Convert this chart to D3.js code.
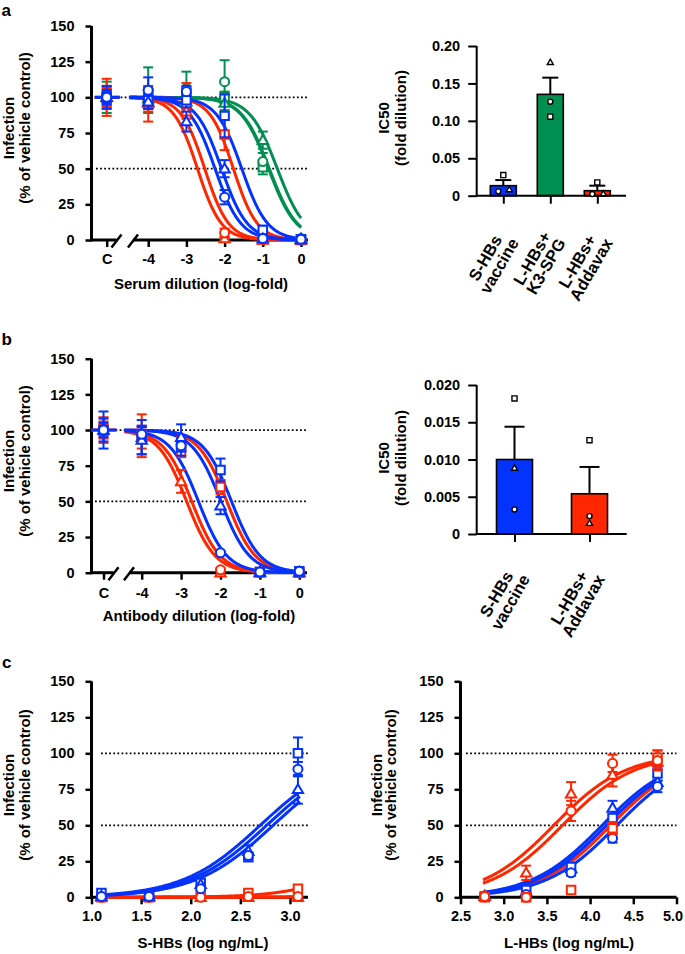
<!DOCTYPE html>
<html><head><meta charset="utf-8">
<script src="https://cdn.jsdelivr.net/npm/d3@7/dist/d3.min.js"></script>
<style>
html,body{margin:0;padding:0;background:#fff;}
svg{display:block;}
text{font-family:"Liberation Sans",Arial,Helvetica,sans-serif;font-weight:bold;fill:#000;}
</style></head><body>
<script>
// ================= DATA =================
const yTicks=[0,25,50,75,100,125,150];
const refLines=[100,50];
const doseX=["C",-4,-3,-2,-1,0];
const doseTickValues=[-5,-4,-3,-2,-1,0];
const doseTickLabels=["C","-4","-3","-2","-1","0"];

// Panel a – serum dilution (first value = vehicle control "C")
const aRedCircle=[100,98,100,5,0.5,0],       aRedCircleSD=[13,5,10,3,0,0];
const aRedSquare=[100,95,95,74,0.5,0],       aRedSquareSD=[8,12,5,11,0,0];
const aRedTriangle=[100,96,90,1,0,0],        aRedTriangleSD=[6,6,5,1,0,0];
const aGreenCircle=[100,105,106,111,55,1],   aGreenCircleSD=[11,16,12,15,6,0];
const aGreenSquare=[100,100,100,100,51,0.5], aGreenSquareSD=[7,8,6,4,5,0];
const aGreenTriangle=[100,99,97,96,70,1],    aGreenTriangleSD=[5,6,5,5,6,0];
const aBlueCircle=[100,105,104,30,1,0.5],    aBlueCircleSD=[8,9,4,5,0,0];
const aBlueSquare=[100,98,98,87,7,0.5],      aBlueSquareSD=[5,6,5,15,3,0];
const aBlueTriangle=[100,97,83,50,1,0.5],    aBlueTriangleSD=[4,5,7,6,0,0];
const aRedIC50=[-2.71,-2.52,-1.77], aBlueIC50=[-2.25,-2.08,-1.55], aGreenIC50=[-0.85,-0.83,-0.62];
const aRedHill=1.4, aBlueHill=1.3, aGreenHill=1.2;

// Panel b – antibody dilution
const bRedCircle=[100,97,90,2,0,0],          bRedCircleSD=[9,5,5,1,0,0];
const bRedSquare=[100,96,85,60,0.5,0],       bRedSquareSD=[6,15,4,5,0,0];
const bRedTriangle=[100,95,64,0,0,0],        bRedTriangleSD=[4,8,8,0,0,0];
const bBlueCircle=[100,97,89,14,0.5,1],      bBlueCircleSD=[13,5,4,1,0,0];
const bBlueSquare=[100,95,88,72,0.5,1],      bBlueSquareSD=[8,12,6,8,0,0];
const bBlueTriangle=[100,93,95,47,0.5,0.5],  bBlueTriangleSD=[5,10,9,6,0,0];
const bRedIC50=[-2.86,-2.73,-1.84], bBlueIC50=[-2.56,-1.99,-1.72];
const bHill=1.2;

// Panel c left – S-HBs
const cLeftX=[1.1,1.58,2.1,2.58,3.08];
const cLeftTicks=[1.0,1.5,2.0,2.5,3.0];
const cLBlueSquare=[3,1,10,28,100],    cLBlueSquareSD=[0,0,2,3,11];
const cLBlueCircle=[0.5,0.5,6,29,89],  cLBlueCircleSD=[0,0,1,2,5];
const cLBlueTriangle=[1,1,9,32,75],    cLBlueTriangleSD=[0,0,2,4,10];
const cLRedSquare=[0,0,0.5,3,6],       cLRedSquareSD=[0,0,0,0,0];
const cLRedCircle=[0,0,0,0.5,0.5],     cLRedCircleSD=[0,0,0,0,0];
const cLRedTriangle=[0,0,0,0,0],       cLRedTriangleSD=[0,0,0,0,0];
const cLBlueEC50=[2.70,2.765,2.83], cLBlueHill=1.1;
const cLRedEC50=[4.04,5.0,5.3], cLRedHill=1.25;

// Panel c right – L-HBs
const cRightX=[2.78,3.26,3.78,4.26,4.78];
const cRightTicks=[2.5,3.0,3.5,4.0,4.5,5.0];
const cRRedTriangle=[1,17,72,85,94],   cRRedTriangleSD=[0,5,8,8,4];
const cRRedCircle=[0.5,0,60,93,95],    cRRedCircleSD=[0,0,7,6,7];
const cRRedSquare=[0,0,5,48,97],       cRRedSquareSD=[0,0,0,4,5];
const cRBlueSquare=[0.5,5,21,55,86],   cRBlueSquareSD=[0,2,3,5,5];
const cRBlueCircle=[0.3,2,17,41,77],   cRBlueCircleSD=[0,1,2,3,4];
const cRBlueTriangle=[1,4,20,62,80],   cRBlueTriangleSD=[0,1,3,5,4];
const cRRedEC50=[3.58,3.68,4.24], cRBlueEC50=[4.14,4.19,4.31];
const cRHill=1.05;

// IC50 bar charts
const barACats=[["S-HBs","vaccine"],["L-HBs+","K3-SPG"],["L-HBs+","Addavax"]];
const barAMean=[0.0134,0.1354,0.0067];
const barASEM=[0.0075,0.0223,0.0067];
const barASquare=[0.0276,0.1056,0.0178];
const barACircle=[0.0058,0.1256,0.0022];
const barATriangle=[0.0076,0.1777,0.0022];
const barATicks=[0,0.05,0.10,0.15,0.20];
const barATickLabels=["0","0.05","0.10","0.15","0.20"];

const barBCats=[["S-HBs","vaccine"],["L-HBs+","Addavax"]];
const barBMean=[0.0100,0.0054];
const barBSEM=[0.0044,0.0036];
const barBSquare=[0.0182,0.0126];
const barBCircle=[0.0033,0.0024];
const barBTriangle=[0.0088,0.0014];
const barBTicks=[0,0.005,0.010,0.015,0.020];
const barBTickLabels=["0","0.005","0.010","0.015","0.020"];

// ================= STYLE =================
const RED="#FF2600", BLUE="#0433FF", GREEN="#008F51";
const FS_TICK=14.5, FS_TITLE=15, FS_CAT=16.5, FS_LETTER=17;

const svg=d3.select("body").append("svg").attr("width",685).attr("height",954);

function ln(g,x1,y1,x2,y2,w,c){
  return g.append("line").attr("x1",x1).attr("y1",y1).attr("x2",x2).attr("y2",y2)
    .attr("stroke",c||"#000").attr("stroke-width",w);
}
function styleAxis(ax,tw){
  ax.attr("font-family",null).attr("font-size",FS_TICK);
  ax.select(".domain").remove();
  ax.selectAll(".tick line").attr("stroke","#000").attr("stroke-width",tw);
  ax.selectAll(".tick text").attr("fill","#000");
}
function symPath(shape,size){
  const t=shape==="circle"?d3.symbolCircle:shape==="square"?d3.symbolSquare:d3.symbolTriangle;
  return d3.symbol().type(t).size(size)();
}
function yTitle(x1,x2,cy,l1,l2){
  svg.append("text").attr("transform",`translate(${x1},${cy}) rotate(-90)`).attr("text-anchor","middle").attr("font-size",FS_TITLE).text(l1);
  svg.append("text").attr("transform",`translate(${x2},${cy}) rotate(-90)`).attr("text-anchor","middle").attr("font-size",FS_TITLE).text(l2);
}
function xTitle(cx,y,t){
  svg.append("text").attr("x",cx).attr("y",y).attr("text-anchor","middle").attr("font-size",FS_TITLE).text(t);
}
function letter(x,y,t){
  svg.append("text").attr("x",x).attr("y",y).attr("font-size",FS_LETTER).text(t);
}

const inhib=(ic,h)=>xv=>100/(1+Math.pow(10,(xv-ic)*h));
const stim=(ec,h)=>xv=>100/(1+Math.pow(10,(ec-xv)*h));

// ---------- dose-response panel ----------
function dosePanel(P){
  const g=svg.append("g");
  const {x,y,x0,xEnd}=P;
  const yb=y(0);
  refLines.forEach(v=>ln(g,P.refFrom,y(v),xEnd,y(v),1.8).attr("stroke-dasharray","1.8,2.3"));
  const ay=g.append("g").attr("transform",`translate(${x0},0)`)
    .call(d3.axisLeft(y).tickValues(yTicks).tickSize(6).tickPadding(11));
  styleAxis(ay,2.5);
  ln(g,x0,yb+1.5,x0,y(150),3);
  const ax=g.append("g").attr("transform",`translate(0,${yb})`)
    .call(d3.axisBottom(x).tickValues(P.tickValues).tickFormat((d,i)=>P.tickLabels[i]).tickSize(7).tickPadding(P.xPad));
  styleAxis(ax,2.5);
  if(P.lastDx) ax.selectAll(".tick text").filter((d,i,n)=>i===n.length-1).attr("dx",P.lastDx);
  if(P.brk){
    ln(g,x0,yb,P.brk[0],yb,3);
    ln(g,P.brk[1],yb,xEnd,yb,3);
    P.brk.forEach(bx=>ln(g,bx-5,yb+7.5,bx+5,yb-5.5,2.5));
  } else {
    ln(g,x0,yb,xEnd,yb,3);
  }
  const lg=d3.line().x(d=>x(d[0])).y(d=>y(d[1]));
  P.curves.forEach(c=>{
    const pts=d3.range(0,241).map(i=>{const xv=c.from+(c.to-c.from)*i/240;return [xv,c.f(xv)];});
    g.append("path").attr("d",lg(pts)).attr("fill","none").attr("stroke",c.color).attr("stroke-width",3);
  });
  if(P.ctrlColors){
    P.ctrlColors.forEach(c=>ln(g,P.xPos("C")-12,y(100),P.xPos("C")+13,y(100),3,c));
  }
  P.groups.forEach(grp=>{
    grp.series.forEach(s=>{
      s.vals.forEach((v,i)=>{
        const sd=s.sd[i]; if(!(sd>0)) return;
        const cx=P.xPos(P.xs[i]);
        ln(g,cx,y(v-sd),cx,y(v+sd),2,grp.color);
        ln(g,cx-5,y(v+sd),cx+5,y(v+sd),2,grp.color);
        ln(g,cx-5,y(v-sd),cx+5,y(v-sd),2,grp.color);
      });
    });
    grp.series.forEach(s=>{
      const sz=s.shape==="circle"?64:s.shape==="square"?72:46;
      s.vals.forEach((v,i)=>{
        g.append("path").attr("d",symPath(s.shape,sz))
          .attr("transform",`translate(${P.xPos(P.xs[i])},${y(v)+(s.shape==="triangle"?0.8:0)})`)
          .attr("fill","#fff").attr("stroke",grp.color).attr("stroke-width",2);
      });
    });
  });
}

// ---------- bar panel ----------
function barPanel(B){
  const g=svg.append("g");
  const {y,x,x0,xEnd}=B;
  const yb=y(0);
  const ay=g.append("g").attr("transform",`translate(${x0},0)`)
    .call(d3.axisLeft(y).tickValues(B.ticks).tickFormat((d,i)=>B.tickLabels[i]).tickSize(8.5).tickPadding(8));
  styleAxis(ay,2);
  ln(g,x0,yb+1,x0,y(B.ticks[B.ticks.length-1]),2);
  const ax=g.append("g").attr("transform",`translate(0,${yb})`)
    .call(d3.axisBottom(x).tickFormat(()=>"").tickSize(8));
  styleAxis(ax,2);
  B.means.forEach((m,i)=>{
    const cx=x(i);
    g.append("rect").attr("x",cx-B.barW/2).attr("y",y(m)).attr("width",B.barW).attr("height",yb-y(m))
      .attr("fill",B.colors[i]).attr("stroke","#000").attr("stroke-width",1.6);
    ln(g,cx,y(m),cx,y(m+B.sem[i]),2);
    ln(g,cx-B.capW/2,y(m+B.sem[i]),cx+B.capW/2,y(m+B.sem[i]),2);
  });
  ln(g,x0,yb,xEnd,yb,2);
  const sets=[["circle",B.circle,B.jit.circle,20],["square",B.square,B.jit.square,26],["triangle",B.triangle,B.jit.triangle,16]];
  sets.forEach(([shape,vals,jit,sz])=>{
    vals.forEach((v,i)=>{
      g.append("path").attr("d",symPath(shape,sz))
        .attr("transform",`translate(${x(i)+jit[i]},${y(v)})`)
        .attr("fill","#fff").attr("stroke","#000").attr("stroke-width",1.4);
    });
  });
  B.cats.forEach((lines,i)=>{
    const lgp=g.append("g").attr("transform",`translate(${x(i)+B.labDx},${yb+B.labDy}) rotate(-60)`);
    const lh=16;
    const ts=lines.map((t,k)=>lgp.append("text").attr("font-size",FS_CAT).attr("text-anchor","middle")
      .attr("y",(k-(lines.length-1)/2)*lh+0.35*FS_CAT).text(t));
    const W=d3.max(ts,t=>t.node().getComputedTextLength());
    ts.forEach(t=>t.attr("x",-W/2));
  });
}

// ================= PANEL a =================
{
  const x=d3.scaleLinear().domain([-5,-4,0]).range([106.7,148.2,301]);
  const y=d3.scaleLinear().domain([0,150]).range([240,26]);
  const xPos=d=>d==="C"?x(-5):x(d);
  const curves=[];
  aGreenIC50.forEach(ic=>curves.push({color:GREEN,f:inhib(ic,aGreenHill),from:-4.45,to:0}));
  aRedIC50.forEach(ic=>curves.push({color:RED,f:inhib(ic,aRedHill),from:-4.45,to:0}));
  aBlueIC50.forEach(ic=>curves.push({color:BLUE,f:inhib(ic,aBlueHill),from:-4.45,to:0}));
  dosePanel({x,y,x0:91.5,xEnd:308,xPos,xs:doseX,refFrom:96,tickValues:doseTickValues,tickLabels:doseTickLabels,xPad:7,
    brk:[116.5,133],curves,ctrlColors:[GREEN,RED,BLUE],
    groups:[
      {color:GREEN,series:[{shape:"square",vals:aGreenSquare,sd:aGreenSquareSD},{shape:"triangle",vals:aGreenTriangle,sd:aGreenTriangleSD},{shape:"circle",vals:aGreenCircle,sd:aGreenCircleSD}]},
      {color:RED,series:[{shape:"square",vals:aRedSquare,sd:aRedSquareSD},{shape:"triangle",vals:aRedTriangle,sd:aRedTriangleSD},{shape:"circle",vals:aRedCircle,sd:aRedCircleSD}]},
      {color:BLUE,series:[{shape:"square",vals:aBlueSquare,sd:aBlueSquareSD},{shape:"triangle",vals:aBlueTriangle,sd:aBlueTriangleSD},{shape:"circle",vals:aBlueCircle,sd:aBlueCircleSD}]}
    ]});
  yTitle(13.7,30,128,"Infection","(% of vehicle control)");
  xTitle(201,289,"Serum dilution (log-fold)");
  letter(1.5,15.5,"a");
}
// ================= PANEL b =================
{
  const x=d3.scaleLinear().domain([-5,-4,0]).range([103.5,141.7,299.3]);
  const y=d3.scaleLinear().domain([0,150]).range([572.7,358.7]);
  const xPos=d=>d==="C"?x(-5):x(d);
  const curves=[];
  bRedIC50.forEach(ic=>curves.push({color:RED,f:inhib(ic,bHill),from:-4.45,to:0}));
  bBlueIC50.forEach(ic=>curves.push({color:BLUE,f:inhib(ic,bHill),from:-4.45,to:0}));
  dosePanel({x,y,x0:91.5,xEnd:307,xPos,xs:doseX,refFrom:95,tickValues:doseTickValues,tickLabels:doseTickLabels,xPad:8,
    brk:[113.5,129],curves,ctrlColors:[RED,BLUE],
    groups:[
      {color:RED,series:[{shape:"square",vals:bRedSquare,sd:bRedSquareSD},{shape:"triangle",vals:bRedTriangle,sd:bRedTriangleSD},{shape:"circle",vals:bRedCircle,sd:bRedCircleSD}]},
      {color:BLUE,series:[{shape:"square",vals:bBlueSquare,sd:bBlueSquareSD},{shape:"triangle",vals:bBlueTriangle,sd:bBlueTriangleSD},{shape:"circle",vals:bBlueCircle,sd:bBlueCircleSD}]}
    ]});
  yTitle(13.5,30,461,"Infection","(% of vehicle control)");
  xTitle(199,621,"Antibody dilution (log-fold)");
  letter(1.5,345,"b");
}
// ================= PANEL c left =================
{
  const x=d3.scaleLinear().domain([1,3]).range([91.5,290]);
  const y=d3.scaleLinear().domain([0,150]).range([897.3,681.3]);
  const curves=[];
  cLRedEC50.forEach(ec=>curves.push({color:RED,f:stim(ec,cLRedHill),from:1.08,to:3.12}));
  cLBlueEC50.forEach(ec=>curves.push({color:BLUE,f:stim(ec,cLBlueHill),from:1.08,to:3.1}));
  dosePanel({x,y,x0:91.5,xEnd:308,xPos:d=>x(d),xs:cLeftX,refFrom:101,tickValues:cLeftTicks,tickLabels:cLeftTicks.map(d3.format(".1f")),xPad:6,
    brk:null,curves,ctrlColors:null,
    groups:[
      {color:RED,series:[{shape:"triangle",vals:cLRedTriangle,sd:cLRedTriangleSD},{shape:"square",vals:cLRedSquare,sd:cLRedSquareSD},{shape:"circle",vals:cLRedCircle,sd:cLRedCircleSD}]},
      {color:BLUE,series:[{shape:"square",vals:cLBlueSquare,sd:cLBlueSquareSD},{shape:"triangle",vals:cLBlueTriangle,sd:cLBlueTriangleSD},{shape:"circle",vals:cLBlueCircle,sd:cLBlueCircleSD}]}
    ]});
  yTitle(13.5,30,785,"Infection","(% of vehicle control)");
  xTitle(203,948,"S-HBs (log ng/mL)");
  letter(2,668.3,"c");
}
// ================= PANEL c right =================
{
  const x=d3.scaleLinear().domain([2.5,5]).range([460.5,676.5]);
  const y=d3.scaleLinear().domain([0,150]).range([897.3,681.3]);
  const curves=[];
  cRRedEC50.forEach(ec=>curves.push({color:RED,f:stim(ec,cRHill),from:2.76,to:4.8}));
  cRBlueEC50.forEach(ec=>curves.push({color:BLUE,f:stim(ec,cRHill),from:2.76,to:4.8}));
  dosePanel({x,y,x0:460.5,xEnd:676.5,xPos:d=>x(d),xs:cRightX,refFrom:466,tickValues:cRightTicks,tickLabels:cRightTicks.map(d3.format(".1f")),xPad:6,
    brk:null,curves,ctrlColors:null,lastDx:-4,
    groups:[
      {color:BLUE,series:[{shape:"triangle",vals:cRBlueTriangle,sd:cRBlueTriangleSD},{shape:"square",vals:cRBlueSquare,sd:cRBlueSquareSD},{shape:"circle",vals:cRBlueCircle,sd:cRBlueCircleSD}]},
      {color:RED,series:[{shape:"square",vals:cRRedSquare,sd:cRRedSquareSD},{shape:"triangle",vals:cRRedTriangle,sd:cRRedTriangleSD},{shape:"circle",vals:cRRedCircle,sd:cRRedCircleSD}]}
    ]});
  yTitle(381.5,396,785,"Infection","(% of vehicle control)");
  xTitle(569,948,"L-HBs (log ng/mL)");
}
// ================= BAR a =================
barPanel({
  y:d3.scaleLinear().domain([0,0.2]).range([195.7,46]),
  x:d3.scalePoint().domain([0,1,2]).range([503.3,597.3]),
  x0:476.7,xEnd:626,ticks:barATicks,tickLabels:barATickLabels,
  means:barAMean,sem:barASEM,colors:[BLUE,GREEN,RED],barW:26,capW:16,
  square:barASquare,circle:barACircle,triangle:barATriangle,
  jit:{circle:[-5,0,-5],square:[0,0,0],triangle:[6,0,6]},
  cats:barACats,labDx:4,labDy:40
});
yTitle(388.5,405.5,118,"IC50","(fold dilution)");
// ================= BAR b =================
barPanel({
  y:d3.scaleLinear().domain([0,0.02]).range([534,385]),
  x:d3.scalePoint().domain([0,1]).range([514.5,589.5]),
  x0:476.7,xEnd:626.7,ticks:barBTicks,tickLabels:barBTickLabels,
  means:barBMean,sem:barBSEM,colors:[BLUE,RED],barW:36,capW:20,
  square:barBSquare,circle:barBCircle,triangle:barBTriangle,
  jit:{circle:[0,0],square:[0,0],triangle:[0,0]},
  cats:barBCats,labDx:4,labDy:38
});
yTitle(388.5,405.5,458,"IC50","(fold dilution)");
</script>
</body></html>
